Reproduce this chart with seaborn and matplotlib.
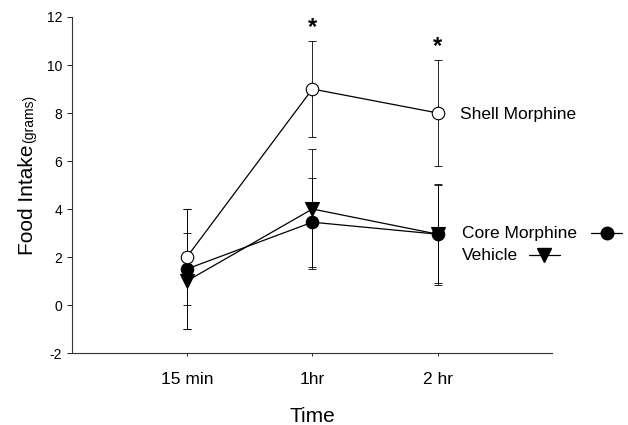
import matplotlib
matplotlib.use("Agg")
import matplotlib.pyplot as plt
import seaborn as sns
import pandas as pd

sns.set_style("ticks")
plt.rcParams['font.family'] = ['Liberation Sans', 'DejaVu Sans']
plt.rcParams['text.color'] = 'black'
plt.rcParams['xtick.color'] = 'black'
plt.rcParams['ytick.color'] = 'black'

# data
times = ["15 min", "1hr", "2 hr"]
time_pos = [1, 2, 3]
shell = [2.0, 9.0, 8.0]
shell_err = [2.0, 2.0, 2.2]
core = [1.5, 3.45, 2.95]
core_err = [2.5, 1.85, 2.05]
vehicle = [1.0, 4.0, 2.95]
vehicle_err = [2.0, 2.5, 2.1]
stars_at = [2, 3]

fig = plt.figure(figsize=(6.28, 4.25), dpi=100)
ax = fig.add_axes([0.1146, 0.1694, 0.7644, 0.7906])

# vehicle first so the core circle sits on top at 2 hr
series = [
    ("Vehicle", vehicle, vehicle_err, "v", "black"),
    ("Core Morphine", core, core_err, "o", "black"),
    ("Shell Morphine", shell, shell_err, "o", "white"),
]

for name, vals, errs, mk, fc in series:
    ax.errorbar(time_pos, vals, yerr=errs, fmt="none", ecolor="black",
                elinewidth=0.6, capsize=3, capthick=0.6, zorder=1)
    df = pd.DataFrame({"t": time_pos, "v": vals})
    sns.lineplot(data=df, x="t", y="v", ax=ax, color="black", lw=0.9,
                 marker=mk, markersize=9.5 if mk == "v" else 9,
                 markerfacecolor=fc, markeredgecolor="black",
                 markeredgewidth=0.8, zorder=3)

# significance stars
for x in stars_at:
    i = time_pos.index(x)
    ax.text(x, shell[i] + shell_err[i] + 0.55, "*", ha="center", va="center",
            fontsize=17, fontweight="bold")

# labels at the right end of the lines
ax.text(3.175, shell[2] - 0.05, "Shell Morphine", fontsize=12.5, va="center")
ax.text(3.19, core[2] + 0.05, "Core Morphine", fontsize=12.5, va="center")
ax.text(3.19, vehicle[2] - 0.87, "Vehicle", fontsize=12.5, va="center")
ax.plot([4.22, 4.47], [3.0, 3.0], color="black", lw=0.9, clip_on=False)
ax.plot([4.35], [3.0], "o", color="black", ms=9, clip_on=False)
ax.plot([3.73, 3.97], [2.08, 2.08], color="black", lw=0.9, clip_on=False)
ax.plot([3.85], [2.08], "v", color="black", ms=9.5, clip_on=False)

ax.set_xlim(0.084, 3.91)
ax.set_ylim(-2, 12)
ax.set_xticks(time_pos)
ax.set_xticklabels(times, fontsize=12.5)
ax.set_yticks(range(-2, 13, 2))
ax.set_yticklabels([str(v) for v in range(-2, 13, 2)], fontsize=10)
ax.tick_params(axis="x", length=2.5, width=0.6, pad=11)
ax.tick_params(axis="y", length=3.6, width=0.6, pad=3.5)
ax.set_xlabel("")
ax.set_ylabel("")
sns.despine(ax=ax)
for s in ["left", "bottom"]:
    ax.spines[s].set_linewidth(0.8)
    ax.spines[s].set_color("#333333")

fig.text(0.497, 0.021, "Time", ha="center", va="center", fontsize=15)
fig.text(0.0525, 0.529, "Food Intake", rotation=90, rotation_mode="anchor",
         ha="center", va="baseline", fontsize=15)
fig.text(0.0525, 0.719, "(grams)", rotation=90, rotation_mode="anchor",
         ha="center", va="baseline", fontsize=10)

fig.savefig("out.png", dpi=100)
